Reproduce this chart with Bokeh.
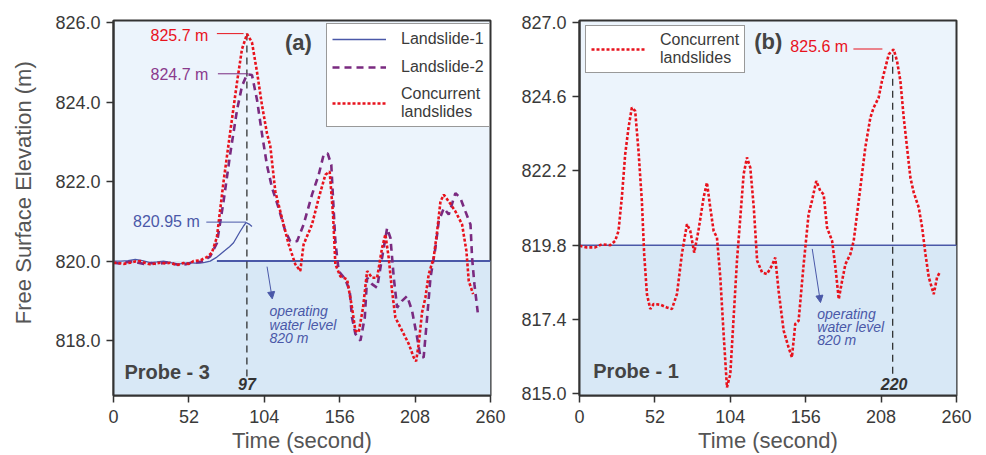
from bokeh.plotting import figure
from bokeh.layouts import row
from bokeh.models import (Range1d, FixedTicker, BoxAnnotation, Label, Arrow, NormalHead,
                          Legend, LegendItem, NumeralTickFormatter)
from bokeh.embed import file_html
from bokeh.resources import INLINE

# ---------------- data ----------------
x_ticks = [0, 52, 104, 156, 208, 260]
y_ticks_a = [818, 820, 822, 824, 826]
y_ticks_b = [815.0, 817.4, 819.8, 822.2, 824.6, 827.0]

# Panel (a) - Probe 3
t_ls1_a = [0, 5, 10, 15, 20, 25.3, 30, 34.5, 39, 43.7, 48, 52.9, 56, 59.8, 63, 66.7, 71.3, 77, 80,
           82.8, 85, 87.4, 89.5, 91.4, 93.5, 95.5]
elev_ls1_a = [820.0, 820.0, 820.01, 820.04, 820.01, 819.96, 819.98, 820.0, 819.97, 819.92, 819.94,
              819.96, 819.95, 819.95, 819.97, 820.0, 820.1, 820.27, 820.36, 820.46, 820.6, 820.75,
              820.87, 820.97, 820.93, 820.87]

t_ls2_a = [0, 4, 9, 13, 17, 21, 26, 30, 34, 38, 42, 46, 50, 54, 58, 62, 66.7, 71.3, 75.9, 80.5,
           85.2, 88.6, 92.1, 95.5, 99, 102.4, 105.9, 109.3, 113.9, 118.5, 121.9, 126.6, 131.1, 136.9,
           141.5, 144.9, 147.7, 150.2, 151.4, 153, 155.3, 159.9, 162.9, 164.5, 166.8, 170.3, 173.3,
           174.9, 178.3, 181.8, 185.2, 188.7, 191, 193.3, 195.6, 199, 202.5, 205.9, 209.4, 211.7,
           213.9, 216.3, 218.6, 222, 224.3, 227.8, 231.2, 235.8, 239.3, 242.7, 246.2, 247.3, 248.9,
           251.2]
elev_ls2_a = [819.96, 819.94, 819.97, 819.99, 819.96, 819.93, 819.95, 819.92, 819.95, 819.97,
              819.93, 819.9, 819.92, 819.96, 819.97, 820.0, 820.12, 820.45, 821.5, 822.7,
              823.8, 824.4, 824.7, 824.68, 824.05, 823.2, 822.4, 821.85, 821.33, 820.75,
              820.5, 820.5, 820.92, 821.67, 822.17, 822.67, 822.71, 822.42, 821.58, 820.5,
              819.75, 819.54, 819.25, 818.58, 818.17, 818.0, 818.58, 819.58, 819.42, 819.33,
              820.08, 820.83, 820.58, 819.58, 818.83, 819.0, 819.12, 818.75, 818.08, 817.58,
              817.58, 818.58, 819.58, 820.33, 821.0, 821.33, 821.17, 821.71, 821.58, 821.25,
              820.92, 820.08, 819.42, 818.71]

t_conc_a = [0, 2.3, 7, 11.5, 15, 18.4, 22, 25.3, 29, 32.2, 36, 39.1, 43.7, 48.3, 52, 55.2, 59.8,
            64.4, 67.9, 71.3, 75.9, 80.5, 85.2, 88.6, 92.1, 95.5, 99, 102.4, 105.9, 108.1, 111.6,
            116.2, 120.8, 125.4, 128.8, 131.1, 136.9, 141.5, 146.1, 149.1, 151.4, 153, 156.4, 161.1,
            164.5, 166.8, 169.1, 172.1, 174.9, 178.3, 181.8, 185.2, 187.5, 189.8, 192.1, 194.4, 199,
            203.6, 207, 208.7, 210.5, 212.8, 215.1, 217.4, 220.8, 223.2, 225.5, 227.8, 231.2, 235.8,
            240.4, 243.4, 245, 248]
elev_conc_a = [819.95, 819.96, 819.93, 819.96, 819.99, 820.0, 819.95, 819.92, 819.94, 819.96,
               819.94, 819.96, 819.9, 819.95, 819.93, 820.0, 820.02, 820.1, 820.21, 820.6,
               822.0, 823.25, 824.5, 825.33, 825.71, 825.5, 824.75, 823.92, 823.2, 822.9,
               821.75, 821.08, 820.42, 819.92, 819.75, 820.42, 820.92, 821.58, 822.17, 822.25,
               821.17, 819.92, 819.62, 819.54, 818.83, 818.25, 818.21, 818.83, 819.75, 819.58,
               819.58, 820.33, 820.67, 820.08, 819.25, 818.58, 818.25, 817.92, 817.58, 817.48,
               817.92, 818.71, 819.08, 819.67, 820.08, 820.75, 821.5, 821.67, 821.5, 821.25,
               820.92, 820.25, 819.5, 819.17]

# Panel (b) - Probe 1
t_conc_b = [0, 5, 10.8, 15.4, 21.2, 24.6, 26.9, 29.2, 31.5, 33.8, 36.1, 38.4, 40.7, 43, 44.6, 46.5,
            48.8, 51.1, 55.7, 60.3, 63.7, 67.2, 70.6, 74.1, 76.4, 79.1, 82, 85.6, 87.9, 90.2, 92.5,
            94.8, 97.1, 99.4, 101.7, 104, 106.3, 108.6, 110.9, 113.2, 115.5, 117.8, 120.2, 122.5,
            125.9, 129.3, 132.7, 135, 137.3, 140.8, 144.2, 146.5, 148.8, 151.1, 154.6, 158, 160.3,
            163.3, 166.1, 168.4, 170.7, 174.2, 176.5, 178.8, 181.1, 183.4, 186.8, 189.1, 191.4,
            193.7, 197.1, 200.6, 202.9, 206.3, 208.6, 213.3, 216.7, 219, 221.3, 223.6, 225.9,
            228.2, 230.5, 234, 236.3, 238.6, 240.9, 244.3, 246.6, 248.4]
elev_conc_b = [819.78, 819.73, 819.73, 819.83, 819.8, 819.94, 820.26, 821.34, 822.73, 823.59,
               824.24, 824.13, 822.84, 821.23, 819.51, 818.22, 817.74, 817.9, 817.88, 817.79,
               817.74, 818.22, 819.51, 820.48, 820.26, 819.56, 820.26, 821.34, 821.82, 821.01,
               820.26, 820.05, 818.76, 816.93, 815.21, 815.64, 817.47, 819.3, 820.69, 822.09,
               822.63, 822.3, 821.01, 819.3, 818.92, 818.87, 819.14, 819.4, 818.33, 817.04,
               816.5, 816.18, 817.26, 817.36, 819.19, 820.8, 821.23, 821.87, 821.55, 821.44,
               820.37, 819.94, 819.08, 818.06, 818.65, 819.19, 819.51, 819.94, 820.8, 821.66,
               822.95, 823.92, 824.24, 824.56, 825.1, 825.96, 826.12, 825.74, 825.1, 823.92,
               822.95, 821.98, 821.5, 821.01, 820.37, 819.51, 818.76, 818.22, 818.76, 818.92]

water_level_a = 820.0
water_level_b = 819.8

# ---------------- style ----------------
FONT = "Liberation Sans"
RED = "#e8121c"
PURPLE = "#7a2a80"
BLUE = "#4a58a8"
TXT = "#3a3a3a"
UPPER = "#ecf4fc"
LOWER = "#d8e8f6"


def make_fig(width, left, right, yr, yticks, ylabel):
    p = figure(width=width, height=455, x_range=Range1d(0, 260), y_range=Range1d(yr[0], yr[1]),
               output_backend="svg", toolbar_location=None,
               min_border_left=left, min_border_right=right, min_border_top=20,
               min_border_bottom=60)
    p.background_fill_color = UPPER
    p.border_fill_color = "white"
    p.outline_line_color = "#333333"
    p.outline_line_width = 2
    p.grid.visible = False
    p.xaxis.ticker = FixedTicker(ticks=x_ticks)
    p.yaxis.ticker = FixedTicker(ticks=yticks)
    p.yaxis.formatter = NumeralTickFormatter(format="0.0")
    for ax in (p.xaxis[0], p.yaxis[0]):
        ax.major_tick_out = 7
        ax.major_tick_in = 0
        ax.minor_tick_line_color = None
        ax.axis_line_color = "#333333"
        ax.axis_line_width = 2
        ax.major_tick_line_color = "#333333"
        ax.major_tick_line_width = 1.5
        ax.major_label_text_font = FONT
        ax.major_label_text_font_size = "18px"
        ax.major_label_text_color = TXT
        ax.axis_label_text_font = FONT
        ax.axis_label_text_font_size = "22px"
        ax.axis_label_text_color = "#555555"
        ax.axis_label_text_font_style = "normal"
    p.xaxis.major_label_standoff = 7
    p.xaxis.axis_label_standoff = 2
    p.yaxis.major_label_standoff = 6
    p.yaxis.axis_label_standoff = 16
    p.xaxis.axis_label = "Time (second)"
    if ylabel:
        p.yaxis.axis_label = ylabel
    box = BoxAnnotation(top=yr[2], fill_color=LOWER, fill_alpha=1.0, line_color=None,
                        level="underlay")
    p.add_layout(box)
    return p


def lbl(p, x, y, text, color=TXT, size="16px", style="normal", align="left"):
    p.add_layout(Label(x=x, y=y, text=text, text_color=color, text_font=FONT,
                       text_font_size=size, text_font_style=style, text_align=align,
                       text_baseline="middle"))


# ---------------- panel (a) ----------------
pa = make_fig(510, 113, 20, (816.62, 826.05, water_level_a), y_ticks_a,
              "\u00a0" * 5 + "Free Surface Elevation (m)")
pa.line([71.3, 260], [water_level_a, water_level_a], line_color=BLUE, line_width=2)
pa.segment(x0=[92.0], y0=[817.1], x1=[92.0], y1=[825.75], line_color="#222222",
           line_width=1.2, line_dash="7 5")
r1 = pa.line(t_ls1_a, elev_ls1_a, line_color=BLUE, line_width=1.3)
r2 = pa.line(t_ls2_a, elev_ls2_a, line_color=PURPLE, line_width=2.6, line_dash="7 5")
r3 = pa.line(t_conc_a, elev_conc_a, line_color=RED, line_width=2.6, line_dash="3 2")

# leader lines
pa.segment(x0=[71.3], y0=[825.72], x1=[89.7], y1=[825.72], line_color=RED, line_width=1)
pa.segment(x0=[72.0], y0=[824.71], x1=[93.0], y1=[824.71], line_color=PURPLE, line_width=1)
pa.segment(x0=[64.0], y0=[820.98], x1=[91.4], y1=[820.98], line_color=BLUE, line_width=1)
lbl(pa, 65.4, 825.68, "825.7 m", RED, align="right")
lbl(pa, 65.4, 824.7, "824.7 m", "#8a3a8c", align="right")
lbl(pa, 59.5, 821.0, "820.95 m", BLUE, align="right")
lbl(pa, 127.5, 825.5, "(a)", "#444444", size="22px", style="bold", align="center")
lbl(pa, 7.5, 817.2, "Probe - 3", "#444444", size="20px", style="bold")
lbl(pa, 92.0, 816.9, "97", "#333333", size="16px", style="bold italic", align="center")
lbl(pa, 107.6, 818.75, "operating", BLUE, size="14px", style="italic")
lbl(pa, 107.6, 818.4, "water level", BLUE, size="14px", style="italic")
lbl(pa, 107.6, 818.06, "820 m", BLUE, size="14px", style="italic")
pa.add_layout(Arrow(end=NormalHead(size=7, fill_color=BLUE, line_color=BLUE),
                    x_start=105.9, y_start=819.86, x_end=109.5, y_end=819.05,
                    line_color=BLUE, line_width=1))

leg_a = Legend(items=[LegendItem(label="Landslide-1", renderers=[r1]),
                      LegendItem(label="Landslide-2", renderers=[r2]),
                      LegendItem(label="Concurrent\nlandslides", renderers=[r3])],
               location=(213, 268))
pa.add_layout(leg_a)

# ---------------- panel (b) ----------------
pb = make_fig(476, 69, 30, (814.95, 827.05, water_level_b), y_ticks_b, None)
pb.line([0, 260], [water_level_b, water_level_b], line_color=BLUE, line_width=1.5)
pb.segment(x0=[216.0], y0=[815.65], x1=[216.0], y1=[826.1], line_color="#222222",
           line_width=1.2, line_dash="7 5")
rb = pb.line(t_conc_b, elev_conc_b, line_color=RED, line_width=2.6, line_dash="3 2")
pb.segment(x0=[188.9], y0=[826.13], x1=[208.9], y1=[826.13], line_color=RED, line_width=1)
lbl(pb, 145.4, 826.22, "825.6 m", RED)
lbl(pb, 130.2, 826.38, "(b)", "#444444", size="22px", style="bold", align="center")
lbl(pb, 9.5, 815.75, "Probe - 1", "#444444", size="20px", style="bold")
lbl(pb, 217.0, 815.33, "220", "#333333", size="16px", style="bold italic", align="center")
lbl(pb, 164.0, 817.59, "operating", BLUE, size="14px", style="italic")
lbl(pb, 164.0, 817.16, "water level", BLUE, size="14px", style="italic")
lbl(pb, 164.0, 816.74, "820 m", BLUE, size="14px", style="italic")
pb.add_layout(Arrow(end=NormalHead(size=7, fill_color=BLUE, line_color=BLUE),
                    x_start=160.5, y_start=819.68, x_end=166.2, y_end=817.95,
                    line_color=BLUE, line_width=1))

leg_b = Legend(items=[LegendItem(label="Concurrent\nlandslides", renderers=[rb])],
               location=(6, 322))
pb.add_layout(leg_b)

for leg in (leg_a, leg_b):
    leg.border_line_color = "#333333"
    leg.border_line_width = 1.5
    leg.background_fill_color = "white"
    leg.background_fill_alpha = 1.0
    leg.label_text_font = FONT
    leg.label_text_font_size = "16px"
    leg.label_text_color = TXT
    leg.label_text_line_height = 1.0
    leg.glyph_width = 54
    leg.glyph_height = 20
    leg.label_height = 20
    leg.label_standoff = 15
    leg.padding = 5
    leg.spacing = 8
    leg.margin = 0

layout = row(pa, pb)
open("out.html", "w").write(file_html(layout, INLINE))
